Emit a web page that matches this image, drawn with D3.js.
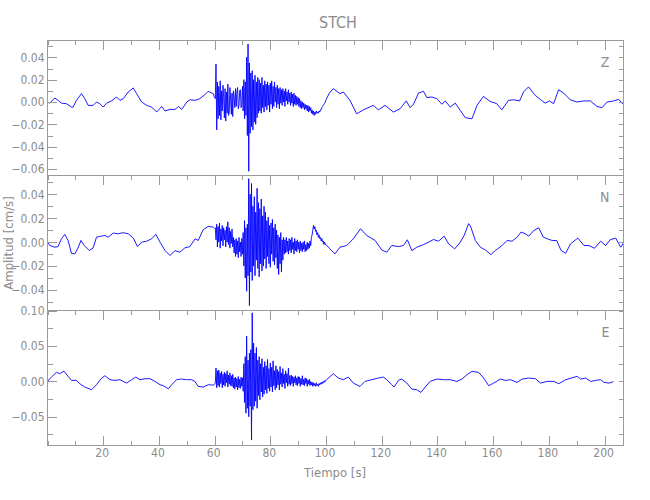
<!DOCTYPE html>
<html><head><meta charset="utf-8">
<script src="https://cdn.jsdelivr.net/npm/d3@7"></script>
<style>
body{margin:0;background:#fff}
text{font-family:"Liberation Sans Narrow","DejaVu Sans Condensed",sans-serif;fill:#8c8c8c}
</style>
</head><body>
<svg id="chart" width="650" height="500"></svg>
<script>
// ---------------- data ----------------
const title = "STCH";
const xLabel = "Tiempo [s]";
const yLabel = "Amplitud [cm/s]";
const components = ["Z", "N", "E"];
const xDomain = [0, 206.8];
const xMajorTicks = [20, 40, 60, 80, 100, 120, 140, 160, 180, 200];
const xMinorTicks = [0, 10, 30, 50, 70, 90, 110, 130, 150, 170, 190];
const yDomains = [[-0.0658, 0.0551], [-0.0571, 0.0557], [-0.0907, 0.1003]];
const yMajorTicks = [
  [0.04, 0.02, 0.00, -0.02, -0.04, -0.06],
  [0.04, 0.02, 0.00, -0.02, -0.04],
  [0.10, 0.05, 0.00, -0.05]
];
const yMinorTicks = [
  [0.05, 0.03, 0.01, -0.01, -0.03, -0.05],
  [0.05, 0.03, 0.01, -0.01, -0.03, -0.05],
  [0.075, 0.025, -0.025, -0.075]
];

// amplitudes in units of 1e-3 cm/s
const UNIT = 1e-3;
const burstStart = 60.25, burstStep = 0.25;

// Z component
const zBefore = [[0,0],[0.8,-1],[2.6,3.6],[3.8,1.5],[5,-1],[6.8,-1.5],[8.6,-4.5],[9.2,-4.5],[10.4,1.5],[12.2,7.5],[13.4,3],[14.6,-3],[16.4,-3],[17.6,0],[18.8,-1.5],[20,-4.5],[21.2,-1],[23,1],[24.8,4.5],[26,1.5],[27.2,3],[29,9],[30.8,12.6],[32,7.5],[33.8,0],[35.6,-3],[37.4,-4.5],[39.2,-9],[41,-4],[42.2,-8],[44,-6.6],[45.8,-6.6],[47,-4],[48.2,-6.6],[50,0],[51.2,2],[53,1.5],[54.7,3],[56.5,6.6],[57.7,9.6],[59.5,7.5],[60,4]];
const zBurst = [3,34,-25,18,-15,14,-12,19,-16,10,-8,15,4,-14,12,-17,9,-10,16,-12,
  -9,13,2,-11,8,-13,10,4,-5,12,-4,9,13,-6,-3,10,11,-5,-2,14,
  -8,20,-15,18,-12,40,-30,52,-62,35,-28,26,-22,28,-25,20,-18,24,-20,18,
  -14,22,-10,20,-8,17,-10,22,-5,15,-9,19,-4,16,-7,18,-3,15,-9,17,
  -2,19,-6,14,-4,18,0,13,-5,15,-2,12,-6,13,-1,11,-3,12,0,10,
  -4,12,1,9,-2,11,0,8,-3,9,-1,7,-4,8,-2,6,-3,5,-2,4,
  -4,3,-5,1,-6,0,-5,-1,-7,-2,-6,-3,-8,-3,-9,-4,-8,-5,-10,-7,
  -11,-8,-12,-9,-11,-8,-10,-9,-10,-8,-9,-7,-7,-5,-4,-3,-2,-1,0,2];
const zAfter = [[101.2,8],[102.6,12],[105,7.5],[106.2,9],[108.6,1.5],[111,-10.5],[113.4,-7],[117,-3],[118.8,-7],[121.2,-3],[124.2,-9],[126.6,-6],[128.8,1],[130.2,-5],[131.4,-2],[133.2,8],[135,9.6],[136.2,4],[138,4.5],[139.8,3],[141.6,-2],[142.8,1],[144.6,-4.5],[146.4,-1],[148.2,-7.5],[150,-14],[152.4,-15],[154.2,-3],[156.5,5],[158.9,0.6],[161.3,-1.5],[163.1,-7],[165.5,1.5],[167.3,2],[169.5,1],[170.9,9],[172.7,13.5],[175.1,6],[176.9,2.4],[178.7,-1],[180.2,1],[181.7,-1.5],[183.5,11],[185.3,8],[187.7,2],[190.1,0],[192.5,1],[194.9,1],[197.3,-4],[199.1,-5],[200.9,0],[203.3,1],[205.1,2.4],[206.6,-2]];

// N component
const nBefore = [[0,0],[0.8,-2.8],[2.6,-4.2],[3.8,-3.7],[5,2.8],[6.2,6.5],[7.4,1.4],[8.6,-9.3],[9.8,-9.8],[10.8,-5.6],[12,1.4],[13.2,-2.8],[15,-7],[16.4,-4.8],[17.6,4.2],[18.8,4.8],[20.6,5.6],[21.8,4.2],[23.6,7.6],[25.4,7],[27.2,7.9],[29,7],[30.8,3.4],[32.3,-3.7],[33.8,0],[35.6,0.8],[37.4,2.8],[38.9,6.5],[40.4,0],[42.2,-7],[44,-11.2],[45.8,-7],[47.5,-8.4],[49.3,-4.8],[51.1,-3.7],[53,2.8],[54.1,1.4],[55.9,10.4],[57.7,13.2],[59.5,12.6],[60,11.5]];
const nBurst = [12,2,15,-4,13,0,16,-5,11,1,14,-3,12,2,10,-4,13,0,17,-2,
  12,-5,9,-1,11,-4,4,-9,2,-12,3,-10,1,-13,4,-8,0,-12,3,-10,
  8,-20,18,-30,12,-41,15,-28,53,-53,40,-25,49,-32,30,-20,38,-28,25,-15,
  45,-22,33,-29,28,-18,36,-24,22,-20,30,-14,25,-22,18,-12,21,-18,14,-21,
  16,-10,19,-16,12,-19,15,-13,10,-22,6,-27,4,-18,8,-25,2,-15,4,-10,
  2,-9,4,-8,1,-10,3,-7,2,-9,4,-6,0,-10,3,-7,1,-8,2,-6,
  0,-9,1,-7,-1,-8,0,-6,1,-8,-2,-7,0,-6,-1,-5,1,-3,4,6,
  10,14,11,13,9,10,6,8,4,6,3,4,1,3,0,1,-2,0,-2,-2];
const nAfter = [[101.4,-5.6],[103.2,-9.8],[105,-4.2],[107.4,-2.8],[109.8,2.8],[112.4,11.2],[114.6,5.6],[117.6,1.4],[120,-6.5],[121.8,-8.4],[123.6,-2.8],[126,-3.7],[127.8,-2.8],[129.2,2],[130.8,-7],[132.6,-4.2],[135,-2],[136.8,0],[138.6,2.2],[140.4,0.8],[142.4,5],[144,-1.4],[146.2,-5.6],[148.2,0],[149.6,5.6],[151.2,15.5],[152,12.6],[153.6,1.4],[155.4,-4.2],[157.2,-6.5],[159.2,-10.4],[160.8,-7],[163.2,-2.8],[165,1.4],[166.8,0.8],[168.6,4.2],[170,8.4],[171.6,7],[172.8,5],[174.6,9.8],[176.4,12],[178,4.2],[179.4,2.8],[181.2,1.4],[182.8,1.4],[184.4,-7],[186,-9.3],[187.8,-1.4],[190.4,3.4],[192.6,-2.8],[194.4,-2.8],[196.4,-5.1],[198.6,0.8],[200.4,-2.8],[202,2],[204,3.4],[205.8,-4.2],[207,0]];

// E component
const eBefore = [[0,0],[1.4,6.1],[3.2,12.7],[4.4,10.9],[5.9,14.6],[7.4,7.1],[8.6,1.4],[10.4,1.4],[11.6,-3.3],[13.4,-8],[15.8,-11.8],[17.6,-4.7],[19.2,3.8],[20.6,8],[22.4,2.4],[24.2,1.4],[26,2.4],[28.4,-2.4],[30.2,2.4],[31.7,6.1],[33.2,2.4],[35,3.8],[36.8,3.8],[38.6,0],[40.4,-4.7],[41.6,-6.1],[43.4,-10.4],[44.6,-4.7],[46.3,2.4],[48.1,3.3],[49.9,2.4],[51.7,2.4],[52.9,0],[54.1,-7.1],[55.9,-8],[57.7,-4.7],[59.5,-5.2],[60,-4]];
const eBurst = [-2,19,-9,15,-6,16,-8,12,-3,14,-9,10,-5,13,-7,11,-2,15,-8,9,
  -4,12,-6,8,-7,10,-9,5,-11,6,-8,4,-12,7,-9,3,-10,6,-7,5,
  -14,25,-30,35,-45,64,-38,30,-50,40,-35,45,-83,97,-40,54,-35,40,-28,48,
  -38,30,-20,35,-26,25,-15,32,-22,20,-18,28,-12,22,-17,31,-10,18,-14,26,
  -8,20,-15,29,-6,15,-12,22,-9,17,-5,14,-12,21,-4,12,-8,18,-3,10,
  -10,15,-2,11,-7,19,-4,8,-6,9,-3,7,-7,6,-2,8,-5,5,-6,7,
  -3,6,-7,4,-4,8,-5,3,-6,5,-3,4,-7,2,-4,3,-6,0,-5,-1,
  -7,-2,-6,-3,-7,-2,-6,-4,-7,-3,-5,-2,-4,-1,-3,0,-2,1,0,2];
const eAfter = [[100.2,2.4],[102.6,10.9],[104.4,4.7],[106.2,2.4],[108,6.1],[109.8,-2.4],[112.2,-7.1],[114,0],[116.4,2.4],[118.8,4.7],[120.6,6.1],[121.8,2.4],[123.6,-4.7],[124.4,-8],[126,1.4],[127.2,3.3],[129,-2.4],[130.8,-10.9],[132.6,-11.8],[134.1,-15.6],[135.6,-8],[137.4,0],[139.8,3.3],[142.2,2.4],[144.6,2.4],[147,0],[148.8,3.3],[150.6,9.4],[152.4,14.2],[154.8,12.7],[156.6,4.7],[158.4,-6.1],[160.2,-2.4],[162.6,3.3],[164.4,1.4],[166.2,2.4],[168.6,-1.4],[170.4,3.3],[172.8,4.7],[175.2,3.8],[177,-2.4],[179.4,0],[181.8,0],[183.6,-3.3],[186,2.4],[188,4.7],[190.2,7.1],[191.4,3.3],[193.2,4.7],[195,0],[196.8,1.4],[198.6,2.4],[199.8,-1.4],[201.6,-2.4],[203.2,-0.5]];

// ---------------- assemble ----------------
function buildSeries(before, burst, after) {
  const pts = before.map(d => ({t: d[0], v: d[1] * UNIT}));
  burst.forEach((v, i) => pts.push({t: burstStart + i * burstStep, v: v * UNIT}));
  after.forEach(d => pts.push({t: d[0], v: d[1] * UNIT}));
  return pts;
}
const series = [
  buildSeries(zBefore, zBurst, zAfter),
  buildSeries(nBefore, nBurst, nAfter),
  buildSeries(eBefore, eBurst, eAfter)
];

// ---------------- layout ----------------
const svg = d3.select("#chart");
const left = 47.5, right = 623.5;
const panelTops = [40.5, 175.5, 310.5];
const panelH = 135;
const axisColor = "#9a9a9a";
const fmt = v => (v < 0 ? "\u2212" : "") + d3.format(".2f")(Math.abs(v));

const x = d3.scaleLinear().domain(xDomain).range([left, right]);

function styleAxis(g) {
  g.select(".domain").remove();
  g.selectAll("line").attr("stroke", axisColor).attr("shape-rendering", "crispEdges");
  g.selectAll("text").style("font-size", "12px").style("fill", "#8c8c8c");
}

components.forEach((comp, i) => {
  const top = panelTops[i], bottom = top + panelH;
  const y = d3.scaleLinear().domain(yDomains[i]).range([bottom, top]);
  const g = svg.append("g");

  const cid = "clip" + i;
  svg.append("clipPath").attr("id", cid).append("rect")
    .attr("x", left).attr("y", top).attr("width", right - left).attr("height", panelH);

  g.append("path")
    .datum(series[i])
    .attr("clip-path", `url(#${cid})`)
    .attr("fill", "none")
    .attr("stroke", "#0000ff")
    .attr("stroke-width", 0.9)
    .attr("stroke-linejoin", "round")
    .attr("d", d3.line().x(d => x(d.t)).y(d => y(d.v)));

  g.append("g").attr("transform", `translate(${left},0)`)
    .call(d3.axisLeft(y).tickValues(yMajorTicks[i]).tickSize(-9).tickSizeOuter(0).tickPadding(3).tickFormat(fmt))
    .call(styleAxis);
  g.append("g").attr("transform", `translate(${left},0)`)
    .call(d3.axisLeft(y).tickValues(yMinorTicks[i]).tickSize(-5).tickSizeOuter(0).tickFormat(""))
    .call(styleAxis);
  g.append("g").attr("transform", `translate(${right},0)`)
    .call(d3.axisRight(y).tickValues(yMajorTicks[i].concat(yMinorTicks[i])).tickSize(-5).tickSizeOuter(0).tickFormat(""))
    .call(styleAxis);
  g.append("g").attr("transform", `translate(0,${top})`)
    .call(d3.axisTop(x).tickValues(xMajorTicks).tickSize(-9).tickSizeOuter(0).tickFormat(""))
    .call(styleAxis);
  g.append("g").attr("transform", `translate(0,${top})`)
    .call(d3.axisTop(x).tickValues(xMinorTicks).tickSize(-4).tickSizeOuter(0).tickFormat(""))
    .call(styleAxis);

  g.append("rect").attr("x", left).attr("y", top).attr("width", right - left).attr("height", panelH)
    .attr("fill", "none").attr("stroke", axisColor).attr("shape-rendering", "crispEdges");

  g.append("text").attr("x", 609.5).attr("y", top + 26).attr("text-anchor", "end")
    .style("font-size", "14px").text(comp);

  if (i === components.length - 1) {
    g.append("g").attr("transform", `translate(0,${bottom})`)
      .call(d3.axisBottom(x).tickValues(xMajorTicks).tickSize(-10).tickSizeOuter(0).tickPadding(3).tickFormat(d3.format("d")))
      .call(styleAxis)
      .selectAll("text").attr("dx", "-1.5");
    g.append("g").attr("transform", `translate(0,${bottom})`)
      .call(d3.axisBottom(x).tickValues(xMinorTicks).tickSize(-5).tickSizeOuter(0).tickFormat(""))
      .call(styleAxis);
  }
});

svg.append("text").attr("x", 338).attr("y", 28).attr("text-anchor", "middle")
  .style("font-size", "16px").text(title);
svg.append("text").attr("x", 335).attr("y", 477).attr("text-anchor", "middle")
  .style("font-size", "13px").text(xLabel);
svg.append("text").attr("transform", "translate(13,243) rotate(-90)").attr("text-anchor", "middle")
  .style("font-size", "13px").text(yLabel);
</script>
</body></html>
